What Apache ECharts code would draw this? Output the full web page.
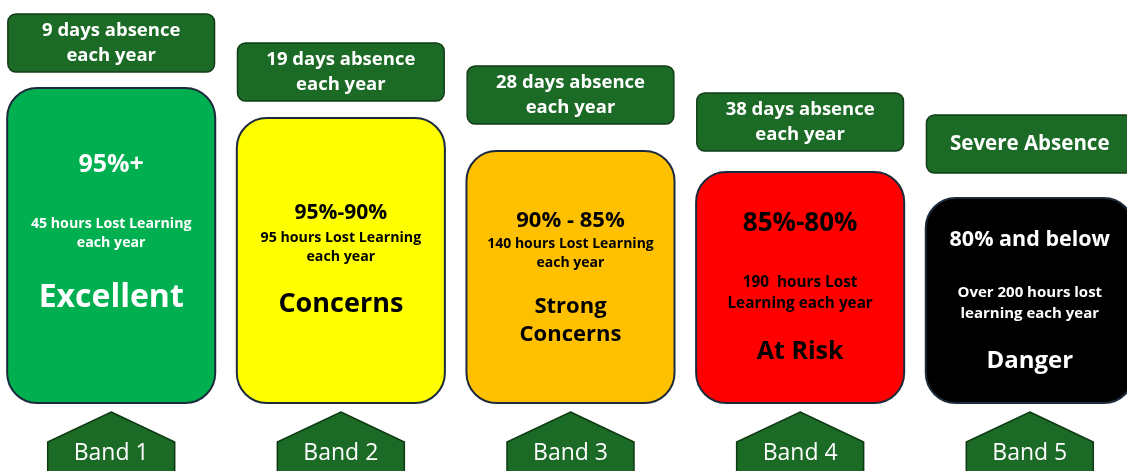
<!DOCTYPE html>
<html>
<head>
<meta charset="utf-8">
<script src="https://cdn.jsdelivr.net/npm/echarts@6/dist/echarts.min.js"></script>
<style>
  html, body { margin: 0; padding: 0; background: #ffffff; }
  #chart { width: 1127px; height: 471px; }
</style>
</head>
<body>
<div id="chart"></div>
<script>
// ---------- data ----------
const bands = ['Band 1', 'Band 2', 'Band 3', 'Band 4', 'Band 5'];
const boxHeights = [315, 285, 252, 231, 205];
const absenceLabels = ['9 days absence\neach year', '19 days absence\neach year', '28 days absence\neach year', '38 days absence\neach year', 'Severe Absence'];
const attendance = ['95%+', '95%-90%', '90% - 85%', '85%-80%', '80% and below'];
const hoursLost = ['45 hours Lost Learning\neach year', '95 hours Lost Learning\neach year', '140 hours Lost Learning\neach year', '190  hours Lost\nLearning each year', 'Over 200 hours lost\nlearning each year'];
const statusLabels = ['Excellent', 'Concerns', 'Strong\nConcerns', 'At Risk', 'Danger'];

// ---------- styles / layout ----------
const FONT = '"Open Sans", "Liberation Sans", sans-serif';
const boxFills = ['#00B050', '#FFFF00', '#FFC000', '#FF0000', '#000000'];
const boxText = ['#ffffff', '#000000', '#000000', '#000000', '#ffffff'];
const darkGreen = '#1B6A25';
const headerGap = [16, 17, 27, 21, 25];
const attOffset = [-80.5, -47.5, -56.5, -64, -61];
const hoursOffset = [[-21.5, -2.5], [-23, -3.5], [-33, -14], [-4.5, 16.5], [-8, 13.5]];
const statusOffset = [[52], [44], [29.5, 58], [64], [61]];
const attSize = [25, 21, 22, 26, 21.5];
const hoursSize = [14.2, 14.2, 14, 15.3, 15];
const statusSize = [32, 27, 22, 25, 24];

function txt(text, x, y, size, color, weight) {
  return {
    type: 'text',
    style: {
      text: text, x: x, y: y, fill: color,
      font: (weight || 'bold') + ' ' + size + 'px ' + FONT,
      align: 'center', verticalAlign: 'middle'
    }
  };
}

function renderItem(params, api) {
  const i = params.dataIndex;
  const idx = api.value(0);
  const base = api.coord([idx, 0]);
  const cx = base[0];
  const bottom = base[1];
  const top = api.coord([idx, api.value(1)])[1];
  const band = api.size([1, 0])[0];
  const w = band * 0.906;
  const cy = (top + bottom) / 2;
  const children = [];

  // header label box
  const hw = band * 0.9, hh = 58;
  const hBottom = top - headerGap[i];
  const hTop = hBottom - hh;
  children.push({
    type: 'rect',
    shape: { x: cx - hw / 2, y: hTop, width: hw, height: hh, r: 8 },
    style: { fill: darkGreen, stroke: '#123d18', lineWidth: 1.5 }
  });
  const hl = absenceLabels[i].split('\n');
  const hc = (hTop + hBottom) / 2;
  if (hl.length === 1) {
    children.push(txt(hl[0], cx, hc, 20.5, '#ffffff'));
  } else {
    children.push(txt(hl[0], cx, hc - 12.5, 18.5, '#ffffff'));
    children.push(txt(hl[1], cx, hc + 12.5, 18.5, '#ffffff'));
  }

  // main box
  children.push({
    type: 'rect',
    shape: { x: cx - w / 2, y: top, width: w, height: bottom - top, r: 30 },
    style: { fill: boxFills[i], stroke: '#1c2b3c', lineWidth: 2 }
  });
  const col = boxText[i];
  children.push(txt(attendance[i], cx, cy + attOffset[i], attSize[i], col));
  hoursLost[i].split('\n').forEach(function (line, k) {
    children.push(txt(line, cx, cy + hoursOffset[i][k], hoursSize[i], col));
  });
  statusLabels[i].split('\n').forEach(function (line, k) {
    children.push(txt(line, cx, cy + statusOffset[i][k], statusSize[i], col));
  });

  // band pentagon
  const pw = band * 0.553;
  const apex = bottom + 9, shoulder = bottom + 39, foot = bottom + 120;
  children.push({
    type: 'polygon',
    shape: { points: [[cx, apex], [cx + pw / 2, shoulder], [cx + pw / 2, foot], [cx - pw / 2, foot], [cx - pw / 2, shoulder]] },
    style: { fill: darkGreen, stroke: '#0e3a13', lineWidth: 1.5 }
  });
  children.push(txt(bands[i], cx, bottom + 50, 23, '#ffffff', 'normal'));

  return { type: 'group', children: children };
}

const chart = echarts.init(document.getElementById('chart'), null, { renderer: 'canvas' });
chart.setOption({
  animation: false,
  backgroundColor: '#ffffff',
  grid: { left: 0, right: 0, top: 0, bottom: 0, containLabel: false },
  xAxis: { type: 'value', min: -0.4842, max: 4.4233, show: false, splitLine: { show: false } },
  yAxis: { type: 'value', min: -68, max: 403, show: false, splitLine: { show: false } },
  series: [{
    type: 'custom',
    clip: false,
    renderItem: renderItem,
    data: boxHeights.map(function (v, k) { return [k, v]; })
  }]
});
</script>
</body>
</html>
